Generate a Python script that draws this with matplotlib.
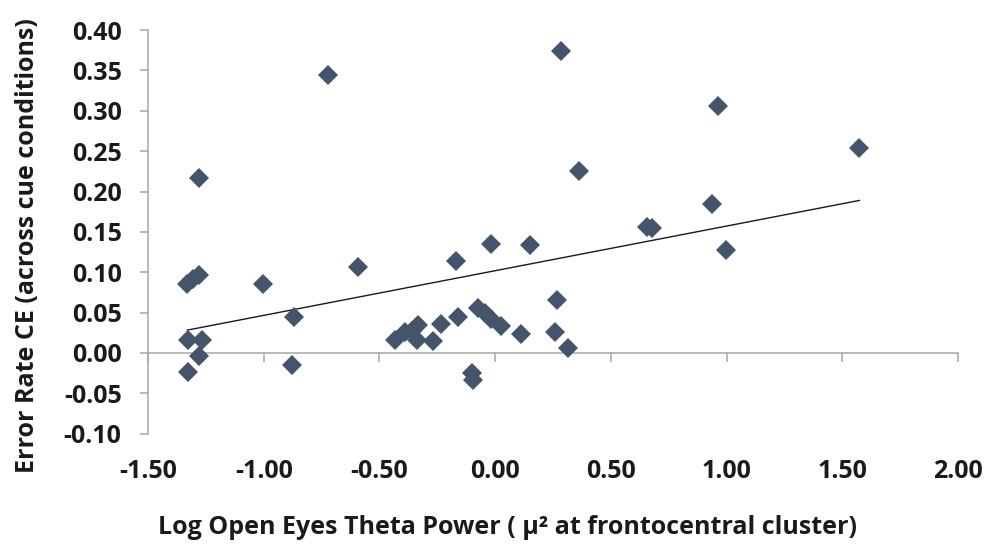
import matplotlib
matplotlib.use("Agg")
import matplotlib.pyplot as plt
import numpy as np

plt.rcParams['font.family'] = ['Open Sans', 'DejaVu Sans']

theta_power = [-1.278, -1.330, -1.305, -1.280, -1.002, -0.868, -1.326, -1.268,
               -1.278, -1.328, -0.879, -0.721, -0.591, -0.169, -0.019, 0.151,
               -0.433, -0.389, -0.360, -0.339, -0.332, -0.270, -0.234, -0.159,
               -0.073, -0.045, -0.020, 0.025, 0.111, -0.101, -0.094, 0.363,
               0.655, 0.677, 0.266, 0.259, 0.316, 0.285, 0.962, 1.574,
               0.936, 0.998]
error_rate = [0.217, 0.086, 0.092, 0.097, 0.086, 0.045, 0.016, 0.016,
              -0.004, -0.023, -0.015, 0.344, 0.106, 0.114, 0.135, 0.134,
              0.016, 0.026, 0.027, 0.016, 0.035, 0.015, 0.036, 0.045,
              0.056, 0.050, 0.042, 0.034, 0.024, -0.025, -0.034, 0.225,
              0.156, 0.155, 0.066, 0.026, 0.006, 0.374, 0.306, 0.254,
              0.185, 0.127]

trend_slope = 0.0553
trend_intercept = 0.1019

x_ticks = [-1.5, -1.0, -0.5, 0.0, 0.5, 1.0, 1.5, 2.0]
x_tick_labels = ["-1.50", "-1.00", "-0.50", "0.00", "0.50", "1.00", "1.50", "2.00"]
y_ticks = [-0.10, -0.05, 0.00, 0.05, 0.10, 0.15, 0.20, 0.25, 0.30, 0.35, 0.40]
y_tick_labels = ["-0.10", "-0.05", "0.00", "0.05", "0.10", "0.15", "0.20",
                 "0.25", "0.30", "0.35", "0.40"]

x_label = "Log Open Eyes Theta Power ( \u03bc\u00b2 at frontocentral cluster)"
y_label = "Error Rate CE (across cue conditions)"

fs = 18
text_color = '#1a1a1a'

fig = plt.figure(figsize=(9.94, 5.5), dpi=100)
ax = fig.add_axes([148/994, 1-433.75/550, 810/994, 403.75/550])

ax.plot(theta_power, error_rate, linestyle='none', marker='D', markersize=10.5,
        markerfacecolor='#44546A', markeredgewidth=0, zorder=3)

xs = np.array([min(theta_power), max(theta_power)])
ax.plot(xs, trend_intercept + trend_slope * xs, color='#1a1a1a', linewidth=1.0, zorder=2)

ax.set_xlim(-1.5, 2.0)
ax.set_ylim(-0.10, 0.40)

spine_color = '#A6A6A6'
ax.spines['top'].set_visible(False)
ax.spines['right'].set_visible(False)
ax.spines['left'].set_color(spine_color)
ax.spines['left'].set_linewidth(1.1)
ax.spines['bottom'].set_color(spine_color)
ax.spines['bottom'].set_linewidth(1.1)
ax.spines['bottom'].set_position(('data', 0.0))

ax.set_yticks(y_ticks)
ax.set_yticklabels(y_tick_labels)
ax.tick_params(axis='y', direction='out', length=6, width=1.1, color=spine_color,
               pad=13, labelsize=fs, labelcolor=text_color)
for lab in ax.get_yticklabels():
    lab.set_fontweight('bold')

ax.set_xticks(x_ticks)
ax.tick_params(axis='x', direction='out', length=6.5, width=1.1, color=spine_color,
               labelbottom=False)

sec = ax.secondary_xaxis(0.0)
sec.set_xticks(x_ticks)
sec.set_xticklabels(x_tick_labels)
sec.spines['bottom'].set_visible(False)
sec.tick_params(axis='x', length=0, pad=18, labelsize=fs, labelcolor=text_color)
for lab in sec.get_xticklabels():
    lab.set_fontweight('bold')

ax.set_ylabel(y_label, fontsize=fs, fontweight='bold', color=text_color, va='center')
ax.yaxis.set_label_coords(-0.149, 0.465)

fig.text((148 + 0.444 * 810) / 994, 1 - 527/550, x_label, fontsize=fs,
         fontweight='bold', color=text_color, ha='center', va='center')

fig.savefig("out.png", dpi=100)
